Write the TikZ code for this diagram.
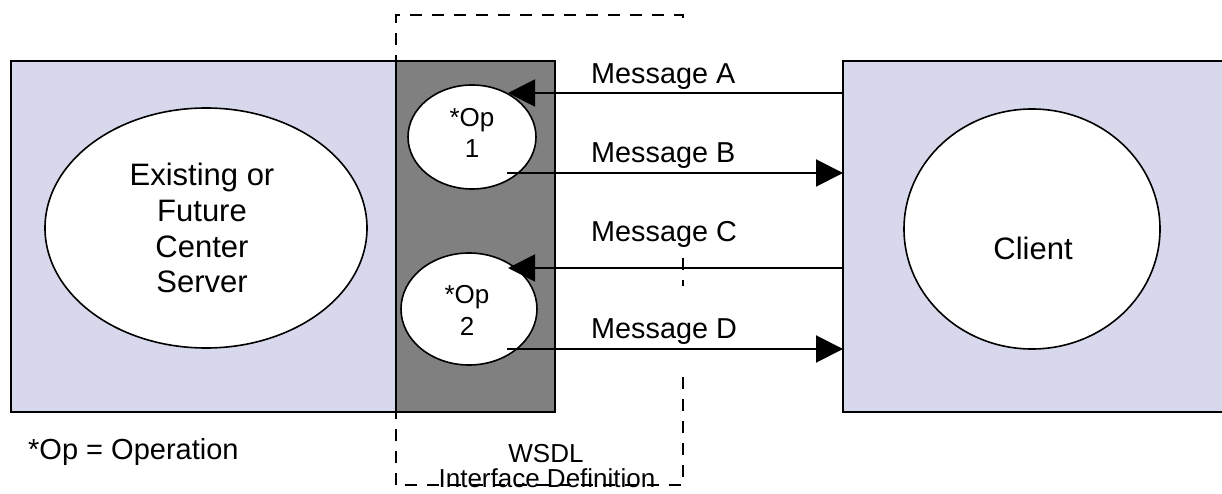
\documentclass[tikz,border=0pt]{standalone}
\usepackage{fontspec}
\setmainfont{Liberation Sans}
\usetikzlibrary{arrows.meta,shapes.geometric}
\definecolor{lav}{RGB}{216,216,236}
\definecolor{midgray}{RGB}{128,128,128}
\tikzset{
  panel/.style={draw=black,line width=2pt},
  oval/.style={ellipse,draw=black,fill=white,line width=1.6pt,inner sep=0pt},
  dashbox/.style={draw=black,line width=2pt,dash pattern=on 12pt off 10pt},
  msg/.style={draw=black,line width=2pt,-{Triangle[length=27pt,width=27pt]}},
  lbl/.style={anchor=base,inner sep=0pt,font=\fontsize{28.8}{34}\selectfont},
  big/.style={anchor=base,inner sep=0pt,font=\fontsize{31}{35}\selectfont},
  optxt/.style={anchor=base,inner sep=0pt,font=\fontsize{26}{31}\selectfont},
  small/.style={anchor=base,inner sep=0pt,font=\fontsize{26}{25}\selectfont},
}
\begin{document}
\begin{tikzpicture}[x=1pt,y=-1pt]
\useasboundingbox (0,0) rectangle (1222,494);
% dashed WSDL boundary
\draw[dashbox] (396,485) -- (396,15) -- (683,15) -- (683,21);
\draw[dashbox] (683,258) -- (683,286);
\draw[dashbox] (683,377) -- (683,485) -- (396,485);
% panels
\path[panel,fill=lav] (11,61) rectangle (396,412);
\path[panel,fill=midgray] (396,61) rectangle (555,412);
\path[panel,fill=lav] (843,61) rectangle (1240,412);
% ellipses
\node[oval,minimum width=322pt,minimum height=240pt] (server) at (206,228) {};
\node[oval,minimum width=128pt,minimum height=104pt] (op1) at (472,137) {};
\node[oval,minimum width=136pt,minimum height=112pt] (op2) at (469,309) {};
\node[oval,minimum width=256pt,minimum height=240pt] (client) at (1032,229) {};
% ellipse texts
\node[big] (s1) at (202,186) {Existing or};
\node[big] (s2) at (202,222) {Future};
\node[big] (s3) at (202,257) {Center};
\node[big] (s4) at (202,292) {Server};
\node[big] (ct) at (1033,259) {Client};
\node[optxt] (o1a) at (472,127) {*Op};
\node[optxt] (o1b) at (472,158) {1};
\node[optxt] (o2a) at (467,303) {*Op};
\node[optxt] (o2b) at (467,335) {2};
% connector end points
\coordinate (aR) at (843,93);  \coordinate (aL) at (508,93);
\coordinate (bL) at (507,173); \coordinate (bR) at (843,173);
\coordinate (cR) at (843,268); \coordinate (cL) at (508,268);
\coordinate (dL) at (507,349); \coordinate (dR) at (843,349);
\draw[msg] (aR) -- (aL);
\draw[msg] (bL) -- (bR);
\draw[msg] (cR) -- (cL);
\draw[msg] (dL) -- (dR);
% message labels
\node[lbl,anchor=base west] (ma) at (591,84) {Message A};
\node[lbl,anchor=base west] (mb) at (591,163) {Message B};
\node[lbl,anchor=base west] (mc) at (591,241) {Message C};
\node[lbl,anchor=base west] (md) at (591,338) {Message D};
% legend and WSDL
\node[lbl,anchor=base west,font=\fontsize{29}{34}\selectfont] (leg) at (28,459) {*Op = Operation};
\node[small] (w1) at (546,462) {WSDL};
\node[small] (w2) at (547,487) {Interface Definition};
\end{tikzpicture}
\end{document}
